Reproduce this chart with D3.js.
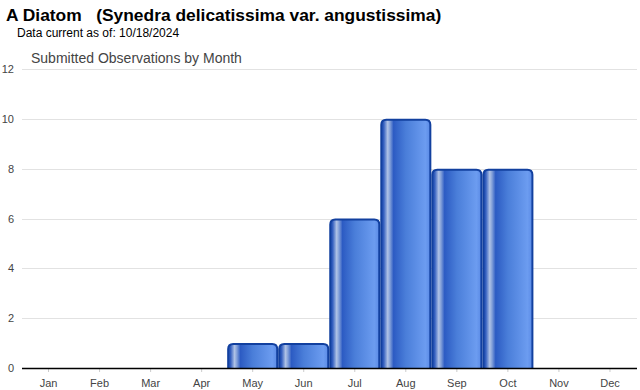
<!DOCTYPE html>
<html>
<head>
<meta charset="utf-8">
<script src="https://cdn.jsdelivr.net/npm/d3@7"></script>
<style>
  body { margin: 0; background: #fff; }
  svg { display: block; font-family: Arial, "Liberation Sans", sans-serif; }
</style>
</head>
<body>
<svg id="chart" width="640" height="390"></svg>
<script>
const months = ['Jan', 'Feb', 'Mar', 'Apr', 'May', 'Jun', 'Jul', 'Aug', 'Sep', 'Oct', 'Nov', 'Dec']
const counts = [0, 0, 0, 0, 1, 1, 6, 10, 8, 8, 0, 0]
const yTicks = [0, 2, 4, 6, 8, 10, 12]

const margin = { top: 69, right: 3, bottom: 22, left: 22 }
const width = 640
const height = 390

const svg = d3.select('#chart')

// bar gradient, dark edges with a pale stripe near the left
const defs = svg.append('defs')
const grad = defs.append('linearGradient')
    .attr('id', 'barFill')
    .attr('x1', '0%').attr('x2', '100%')
    .attr('y1', '0%').attr('y2', '0%')
const stops = [
    [0, '#1d4aac'], [0.05, '#3560c0'], [0.13, '#b0c3e6'],
    [0.18, '#7f9dd8'], [0.25, '#2c5bc3'], [0.5, '#4a7ed9'], [0.9, '#6c9cf0'], [1, '#5a8ae6']
]
stops.forEach(([o, c]) => grad.append('stop').attr('offset', o).attr('stop-color', c))

const x = d3.scaleBand()
    .domain(months)
    .range([margin.left + 0.5, width - margin.right - 1])
    .paddingInner(0)
    .paddingOuter(0.01)

const y = d3.scaleLinear()
    .domain([0, 12])
    .range([height - margin.bottom, margin.top])

// grid
svg.append('g')
    .selectAll('line')
    .data(yTicks.filter(d => d > 0))
    .join('line')
    .attr('x1', margin.left)
    .attr('x2', width - margin.right)
    .attr('y1', d => Math.round(y(d)) + 0.5)
    .attr('y2', d => Math.round(y(d)) + 0.5)
    .attr('stroke', '#e2e2e2')

// y labels
svg.append('g')
    .selectAll('text')
    .data(yTicks)
    .join('text')
    .attr('x', 14)
    .attr('y', d => y(d) + 4)
    .attr('text-anchor', 'end')
    .attr('font-size', 11)
    .attr('fill', '#444')
    .text(d => d)

// bars with rounded tops
const r = 5
svg.append('g')
    .selectAll('path')
    .data(months.map((m, i) => ({ m, v: counts[i] })).filter(d => d.v > 0))
    .join('path')
    .attr('d', d => {
        const x0 = x(d.m) + 1, x1 = x(d.m) + x.bandwidth() - 1
        const yt = y(d.v) + 1, yb = y(0)
        return `M${x0},${yb} V${yt + r} Q${x0},${yt} ${x0 + r},${yt} H${x1 - r} Q${x1},${yt} ${x1},${yt + r} V${yb}`
    })
    .attr('fill', 'url(#barFill)')
    .attr('stroke', '#12409f')
    .attr('stroke-width', 2)

// x axis
const xAxis = svg.append('g')
    .attr('transform', `translate(0,${y(0)})`)
    .call(d3.axisBottom(x).tickSize(4).tickSizeOuter(0))
xAxis.select('.domain').remove()
xAxis.selectAll('.tick line').attr('stroke', '#ccc')
xAxis.selectAll('.tick text')
    .attr('font-size', 11)
    .attr('font-family', 'Arial, "Liberation Sans", sans-serif')
    .attr('fill', '#444')
    .attr('dy', '1.1em')

svg.append('line')
    .attr('x1', margin.left)
    .attr('x2', width - margin.right)
    .attr('y1', y(0) + 0.5)
    .attr('y2', y(0) + 0.5)
    .attr('stroke', '#000')
    .attr('stroke-width', 1.5)

// titles
svg.append('text')
    .attr('x', 6).attr('y', 21)
    .attr('font-size', 17.4).attr('font-weight', 'bold')
    .attr('fill', '#000')
    .attr('xml:space', 'preserve')
    .text('A Diatom   (Synedra delicatissima var. angustissima)')

svg.append('text')
    .attr('x', 17).attr('y', 37)
    .attr('font-size', 12)
    .attr('fill', '#000')
    .text('Data current as of: 10/18/2024')

svg.append('text')
    .attr('x', 31).attr('y', 63)
    .attr('font-size', 14)
    .attr('fill', '#444')
    .text('Submitted Observations by Month')
</script>
</body>
</html>
